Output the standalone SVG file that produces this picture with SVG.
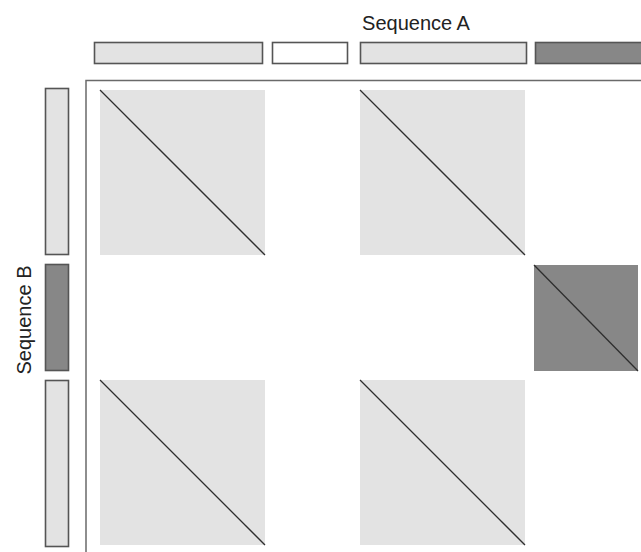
<svg xmlns="http://www.w3.org/2000/svg" width="641" height="552" viewBox="0 0 641 552">
  <style>
    .label { font-family: "Liberation Sans", Arial, sans-serif; font-size: 20px; fill: #222; }
    .seg { stroke: #555555; stroke-width: 1.6; }
    .light { fill: #e3e3e3; }
    .dark { fill: #878787; }
    .blank { fill: #ffffff; }
    .block { stroke: none; }
    .diag { stroke: #2e2e2e; stroke-width: 1.3; fill: none; }
    .frame { stroke: #6a6a6a; stroke-width: 1.5; fill: none; }
  </style>
  <rect width="641" height="552" fill="#ffffff"/>

  <!-- axis titles -->
  <text class="label" x="416" y="30" text-anchor="middle">Sequence A</text>
  <text class="label" transform="translate(31,320) rotate(-90)" text-anchor="middle">Sequence B</text>

  <!-- segments of sequence A (top) -->
  <g id="seqA">
    <rect id="a1" class="seg light" x="94.5" y="42.5" width="168" height="21"/>
    <rect id="a2" class="seg blank" x="272.5" y="42.5" width="75" height="21"/>
    <rect id="a3" class="seg light" x="360.5" y="42.5" width="166" height="21"/>
    <rect id="a4" class="seg dark" x="535.5" y="42.5" width="110" height="21"/>
  </g>

  <!-- segments of sequence B (left) -->
  <g id="seqB">
    <rect id="b1" class="seg light" x="45.5" y="88.5" width="23" height="166"/>
    <rect id="b2" class="seg dark" x="45.5" y="264.5" width="23" height="106"/>
    <rect id="b3" class="seg light" x="45.5" y="380.5" width="23" height="166"/>
  </g>

  <!-- plot frame -->
  <path class="frame" d="M86,552 V80.5 H641"/>

  <!-- matching blocks -->
  <g id="m11"><rect class="block light" x="100" y="90" width="165" height="165"/></g>
  <g id="m31"><rect class="block light" x="360" y="90" width="165" height="165"/></g>
  <g id="m13"><rect class="block light" x="100" y="380" width="165" height="165"/></g>
  <g id="m33"><rect class="block light" x="360" y="380" width="165" height="165"/></g>
  <g id="m42"><rect class="block dark" x="534" y="265" width="104" height="106"/></g>

  <!-- identity diagonals -->
  <g id="diagonals">
    <line class="diag" x1="100" y1="90" x2="265" y2="255"/>
    <line class="diag" x1="360" y1="90" x2="525" y2="255"/>
    <line class="diag" x1="100" y1="380" x2="265" y2="545"/>
    <line class="diag" x1="360" y1="380" x2="525" y2="545"/>
    <line class="diag" x1="534" y1="265" x2="638" y2="371"/>
  </g>
</svg>
